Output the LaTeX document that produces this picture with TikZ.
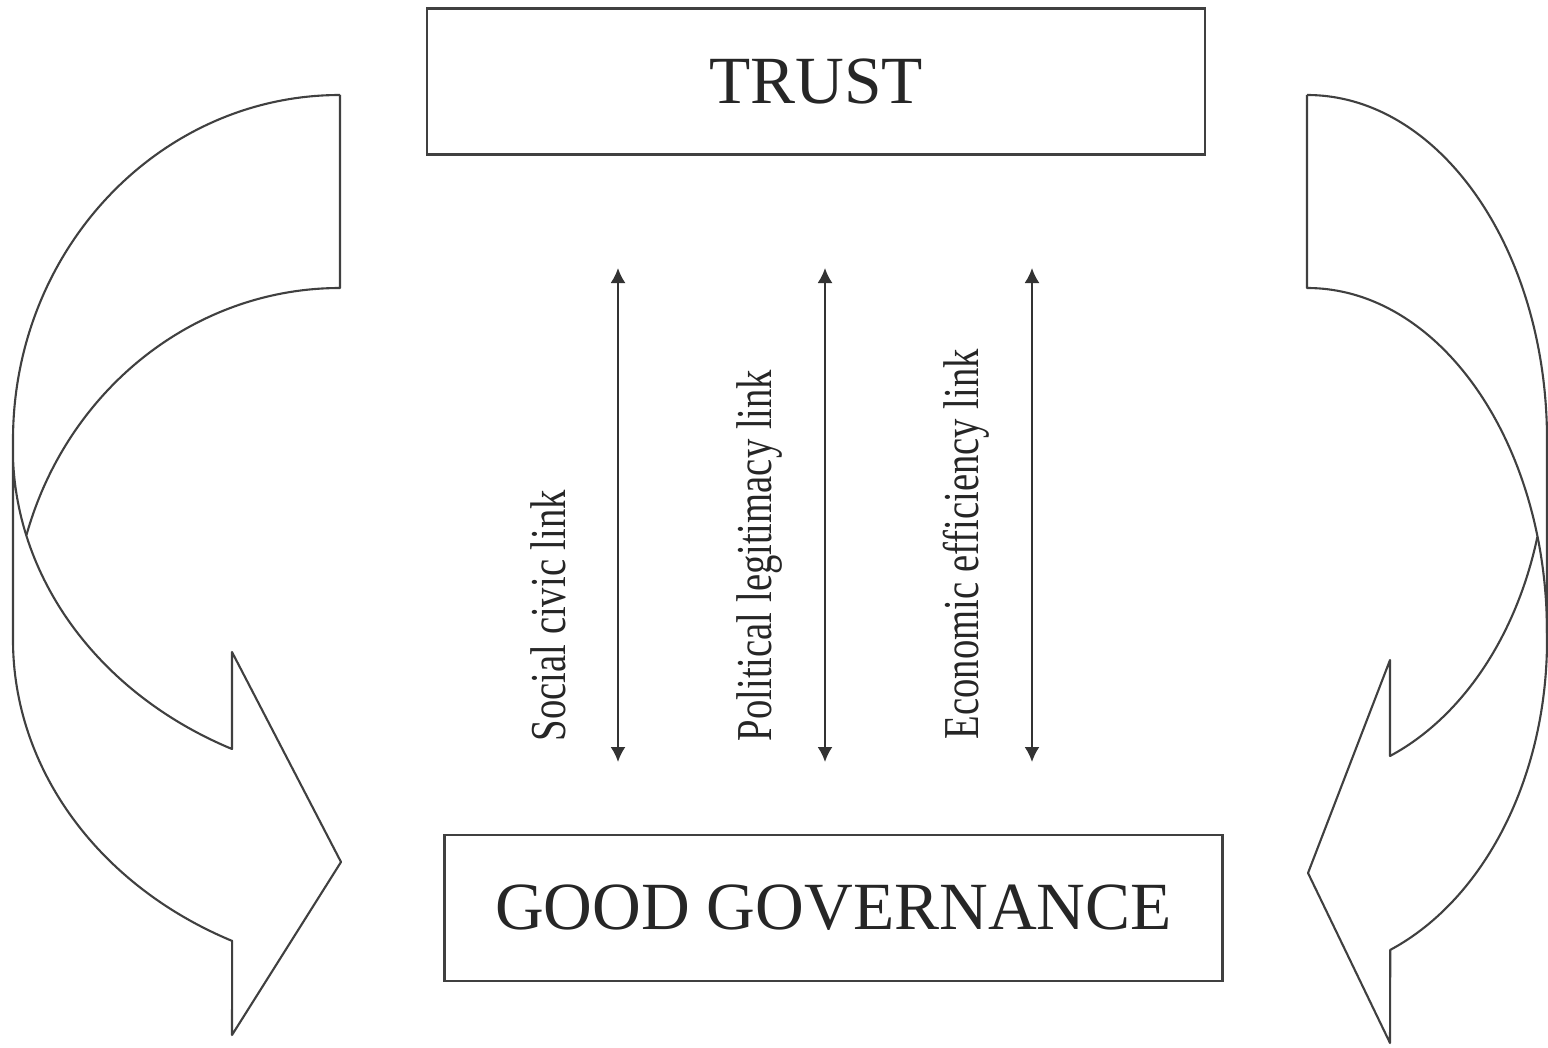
\documentclass[tikz,border=0pt]{standalone}
\usepackage{fontspec}
\setmainfont{Liberation Serif}
\usetikzlibrary{arrows.meta}

\begin{document}
\begin{tikzpicture}
  [box/.style={draw=black!75, line width=0.8pt, minimum width=7.78cm, minimum height=1.46cm, font=\fontsize{19.2}{23}\selectfont, text=black!85},
  link/.style={draw=black!80, line width=0.6pt, {Latex[length=1.5mm,width=1.5mm]}-{Latex[length=1.5mm,width=1.5mm]}},
  lbl/.style={rotate=90, anchor=base west, inner sep=0pt, font=\fontsize{11}{13}\selectfont, text=black!85},
  ribbon/.style={draw=black!75, line width=0.6pt, line join=round}]

  \useasboundingbox (0,0) rectangle (15.48,10.47);

  \node[box] (trust) at (8.16,9.655) {TRUST};
  \node[box] (gov) at (8.335,1.39) {GOOD GOVERNANCE};

  \coordinate (soc-t) at (6.18,7.79);
  \coordinate (soc-b) at (6.18,2.85);
  \coordinate (pol-t) at (8.25,7.79);
  \coordinate (pol-b) at (8.25,2.85);
  \coordinate (eco-t) at (10.32,7.79);
  \coordinate (eco-b) at (10.32,2.85);

  \draw[link] (soc-t) -- (soc-b);
  \draw[link] (pol-t) -- (pol-b);
  \draw[link] (eco-t) -- (eco-b);

  \node[lbl] (soc) at (5.65,3.05) {\scalebox{1}[1.3]{Social civic link}};
  \node[lbl] (pol) at (7.71,3.05) {\scalebox{1}[1.3]{Political legitimacy link}};
  \node[lbl] (eco) at (9.78,3.07) {\scalebox{1}[1.3]{Economic efficiency link}};

  \draw[ribbon] (3.40,9.52) arc[start angle=90, end angle=180, x radius=3.27, y radius=3.45]
    -- (0.13,4.07) arc[start angle=180, end angle=244.3, x radius=3.87, y radius=3.34]
    -- (2.32,0.12) -- (3.41,1.85) -- (2.32,3.95) -- (2.32,2.98)
    arc[start angle=244.3, end angle=180, x radius=3.87, y radius=3.34];
  \draw[ribbon] (3.40,9.52) -- (3.40,7.59)
    arc[start angle=90, end angle=163.5, x radius=3.27, y radius=3.45];

  \draw[ribbon] (13.07,9.52) arc[start angle=90, end angle=0, x radius=2.40, y radius=3.45]
    -- (15.47,4.07) arc[start angle=0, end angle=-68.1, x radius=2.50, y radius=3.34]
    -- (13.90,0.04) -- (13.08,1.74) -- (13.90,3.87) -- (13.90,2.91)
    arc[start angle=-68.1, end angle=-15.8, x radius=2.50, y radius=3.34];
  \draw[ribbon] (13.07,9.52) -- (13.07,7.59)
    arc[start angle=90, end angle=0, x radius=2.40, y radius=3.45];

\end{tikzpicture}
\end{document}
